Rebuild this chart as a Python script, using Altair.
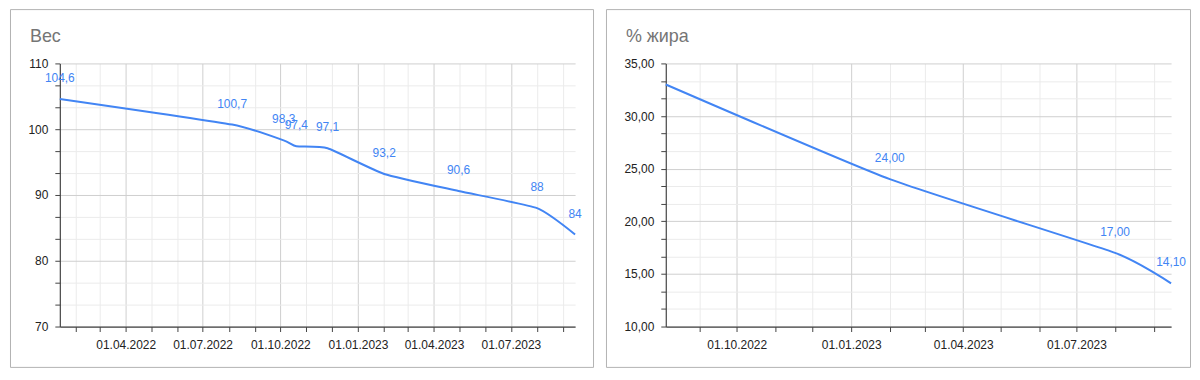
import altair as alt
import pandas as pd

# ---- data ----
weight_dates = ["2022-01-13", "2022-08-05", "2022-10-05", "2022-10-20", "2022-11-26",
                "2023-02-01", "2023-04-30", "2023-08-01", "2023-09-15"]
weight_values = [104.6, 100.7, 98.3, 97.4, 97.1, 93.2, 90.6, 88, 84]

fat_dates = ["2022-08-05", "2023-02-01", "2023-08-01", "2023-09-15"]
fat_values = [33.0, 24.0, 17.0, 14.1]

weight_title = "Вес"
fat_title = "% жира"

BLUE = "#4285F4"
FONT = "Liberation Sans"

wdf = pd.DataFrame({"date": [d + "T00:00:00" for d in weight_dates], "value": weight_values})
wdf["label"] = [f"{v:g}".replace(".", ",") for v in weight_values]

fdf = pd.DataFrame({"date": [d + "T00:00:00" for d in fat_dates], "value": fat_values})
fdf["label"] = [""] + [f"{v:.2f}".replace(".", ",") for v in fat_values[1:]]

one = pd.DataFrame({"a": [0]})


def months(y0, m0, y1, m1):
    out = []
    y, m = y0, m0
    while (y, m) <= (y1, m1):
        out.append(alt.DateTime(year=y, month=m, date=1))
        m += 1
        if m > 12:
            m = 1
            y += 1
    return out


def x_axis(vals):
    return alt.Axis(
        values=vals,
        title=None,
        labelAngle=0,
        labelOverlap=False,
        labelFlush=False,
        labelExpr="month(datum.value) % 3 == 0 ? timeFormat(datum.value, '%d.%m.%Y') : ''",
        gridColor={"condition": {"test": "month(datum.value) % 3 == 0", "value": "#cfcfcf"},
                   "value": "#ebebeb"},
        labelPadding=8,
    )


def y_axis(vals, step, fmt):
    test = f"abs(datum.value/{step} - round(datum.value/{step})) < 0.001"
    return alt.Axis(
        values=vals,
        title=None,
        labelExpr=f"{test} ? replace(format(datum.value, '{fmt}'), '.', ',') : ''",
        gridColor={"condition": {"test": test, "value": "#cfcfcf"}, "value": "#ebebeb"},
        labelPadding=7,
    )


def panel(df, xvals, ydomain, yvals, ystep, yfmt, width, frame, title, title_x):
    base = alt.Chart(df).encode(
        x=alt.X("date:T", scale=alt.Scale(nice=False), axis=x_axis(xvals)),
        y=alt.Y("value:Q", scale=alt.Scale(domain=ydomain, nice=False, zero=False),
                axis=y_axis(yvals, ystep, yfmt)),
    )
    line = base.mark_line(color=BLUE, strokeWidth=2, interpolate="cardinal", tension=0.5)
    labels = base.mark_text(color=BLUE, dy=-21, fontSize=12, font=FONT).encode(text="label:N")
    box = alt.Chart(one).mark_rect(filled=False, stroke="#b3b3b3", strokeWidth=1).encode(
        x=alt.value(frame[0]), x2=alt.value(frame[1]),
        y=alt.value(frame[2]), y2=alt.value(frame[3]),
    )
    ttl = alt.Chart(one).mark_text(
        align="left", baseline="alphabetic", fontSize=18, color="#757575", font=FONT
    ).encode(x=alt.value(title_x), y=alt.value(-21), text=alt.value(title))
    return alt.layer(box, line, labels, ttl).properties(width=width, height=264)


left = panel(
    wdf, months(2022, 2, 2023, 9), [70, 110],
    [70 + i * 10 / 3 for i in range(13)], 10, "d",
    517, (-49.5, 535.5, -54, 305), weight_title, -30,
)
right = panel(
    fdf, months(2022, 9, 2023, 9), [10, 35],
    [10 + i * 5 / 3 for i in range(16)], 5, ".2f",
    507, (-59.5, 526.5, -54, 305), fat_title, -40,
)

chart = alt.hconcat(left, right, spacing=91, bounds="flush").properties(
    padding={"left": 1, "top": 0, "right": 0, "bottom": 0}
).configure_view(stroke="transparent").configure_axis(
    labelFont=FONT,
    labelFontSize=12,
    labelColor="#222222",
    domainColor="#444444",
    domainWidth=1.2,
    tickColor="#444444",
    tickSize=5,
    gridWidth=1,
)

chart.save("out.html", embed_options={"renderer": "svg", "actions": False})
